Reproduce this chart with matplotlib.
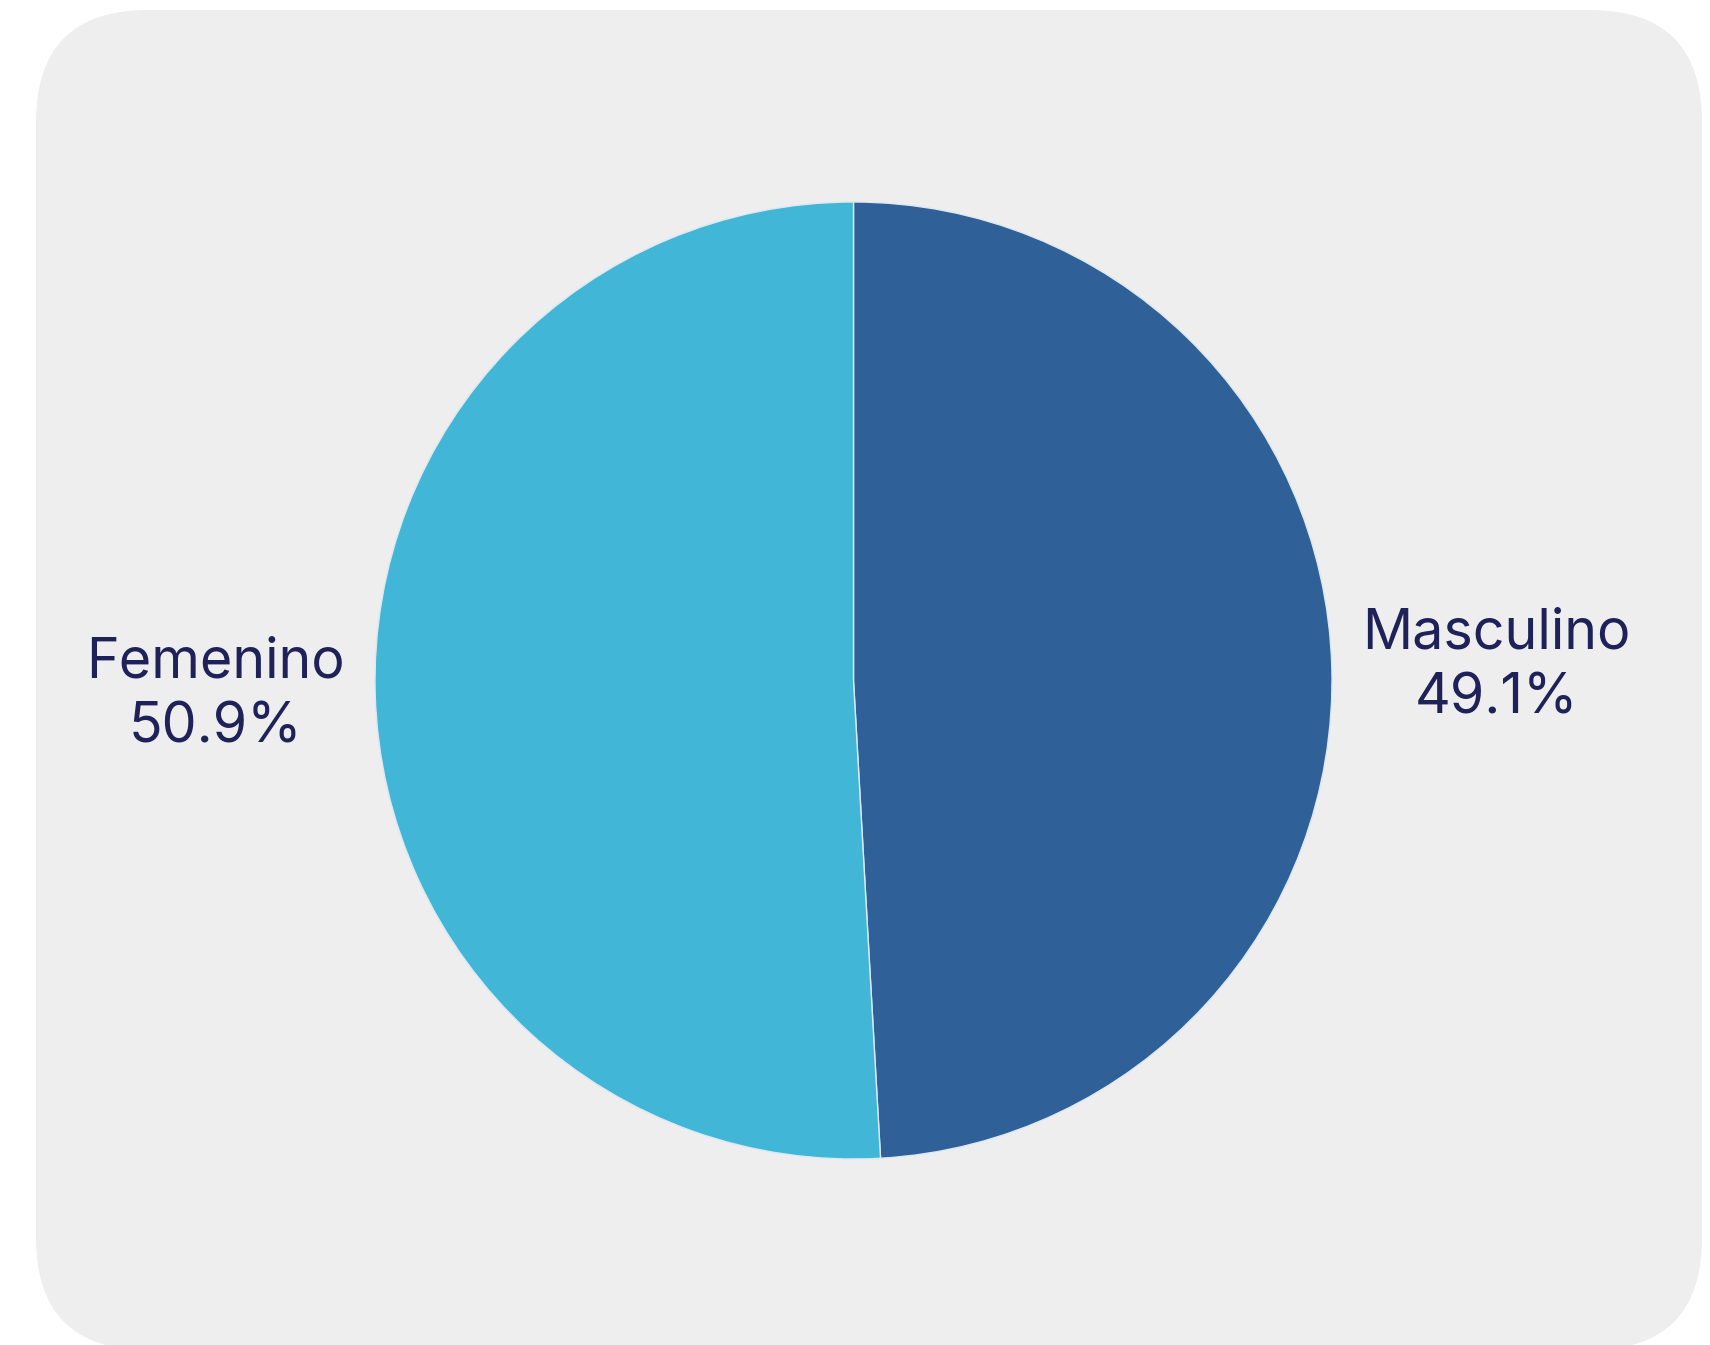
import numpy as np
import matplotlib
import matplotlib.pyplot as plt
from matplotlib.patches import FancyBboxPatch
plt.switch_backend('agg')

matplotlib.rcParams['font.family'] = ['Inter', 'DejaVu Sans']

labels = ['Masculino', 'Femenino']
shares = [49.1, 50.9]
colors = ['#306098', '#42B6D6']

if __name__ == '__main__':
	W, H = 1710, 1345
	fig = plt.figure(figsize=(W / 100, H / 100), dpi=100)
	fig.patch.set_facecolor('white')
	ax = fig.add_axes([0, 0, 1, 1])
	ax.set_xlim(0, W)
	ax.set_ylim(0, H)
	ax.axis('off')

	# grey card with rounded corners (bottom runs off the image)
	card = FancyBboxPatch((36, -5), 1666, 1340,
		boxstyle='round,pad=0,rounding_size=112',
		facecolor='#EEEEEE', edgecolor='none', zorder=0)
	ax.add_patch(card)

	texts = [f'{l}\n{v:.1f}%' for l, v in zip(labels, shares)]
	wedges, lbls = ax.pie(shares, labels=texts, colors=colors,
		startangle=90, counterclock=False,
		center=(853.5, 664.5), radius=478.5, labeldistance=1.063,
		wedgeprops=dict(edgecolor='#dce9f2', linewidth=1),
		textprops=dict(fontsize=40, color='#1E2259', linespacing=1.3),
		frame=True)
	for w, t in zip(wedges, lbls):
		mid = np.deg2rad((w.theta1 + w.theta2) / 2)
		t.set_horizontalalignment('left' if np.cos(mid) > 0 else 'right')
		t.set_multialignment('center')
	ax.set_xlim(0, W)
	ax.set_ylim(0, H)
	ax.axis('off')

	plt.savefig('out.png', dpi=100)
